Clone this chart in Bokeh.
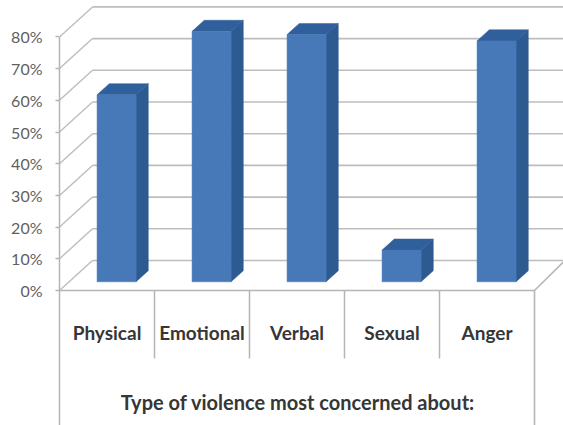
from bokeh.embed import file_html
from bokeh.models import ColumnDataSource, FixedTicker, Range1d
from bokeh.plotting import figure
from bokeh.resources import INLINE
from bokeh.core.properties import value

categories = ["Physical", "Emotional", "Verbal", "Sexual", "Anger"]
percentages = [59, 79, 78, 10, 76]
tick_values = [0, 10, 20, 30, 40, 50, 60, 70, 80]
x_title = "Type of violence most concerned about:"

# Scale: one category slot is 95 px wide, one percent is 3.17 px tall
SLOT_PX = 95.0
PCT_PX = 3.17
DEPTH_X = 33 / SLOT_PX      # full floor depth along x
DEPTH_Y = 30 / PCT_PX       # full floor depth along y
BAR_NEAR = 0.29             # bar front face, as a fraction of floor depth
BAR_FAR = 0.66              # bar back face
BAR_W = 39 / SLOT_PX

GRID = "#bdbdbd"
AXIS = "#b5b5b5"
LABEL = "#5f5f5f"
TEXT = "#363636"

p = figure(
    width=563, height=425, output_backend="svg", toolbar_location=None,
    x_range=Range1d(0, 504 / SLOT_PX),
    y_range=Range1d(-135 / PCT_PX, 290 / PCT_PX),
    min_border_left=59, min_border_right=0, min_border_top=0, min_border_bottom=0,
    background_fill_color="white", border_fill_color="white", outline_line_color=None,
)
p.xaxis.visible = False
p.xgrid.visible = False
p.ygrid.visible = False

ax = p.yaxis[0]
ax.ticker = FixedTicker(ticks=tick_values)
ax.major_label_overrides = {t: f"{t}%" for t in tick_values}
ax.bounds = (-135 / PCT_PX, 80)
ax.axis_line_color = AXIS
ax.axis_line_width = 1.5
ax.major_tick_line_color = AXIS
ax.major_tick_line_width = 1.5
ax.major_tick_in = 0
ax.major_tick_out = 4
ax.minor_tick_line_color = None
ax.major_label_standoff = 13
ax.major_label_text_font = "Lato"
ax.major_label_text_font_size = "16px"
ax.major_label_text_color = LABEL

# Back wall and side wall grid lines
n = len(categories)
back_end = 504 / SLOT_PX
p.segment(
    x0=[DEPTH_X] * len(tick_values), y0=[t + DEPTH_Y for t in tick_values],
    x1=[back_end] * len(tick_values), y1=[t + DEPTH_Y for t in tick_values],
    line_color=GRID, line_width=1.6,
)
p.segment(
    x0=[0.0] * len(tick_values), y0=tick_values,
    x1=[DEPTH_X] * len(tick_values), y1=[t + DEPTH_Y for t in tick_values],
    line_color=GRID, line_width=1.4,
)

# Floor front edge, its right-hand edge and the category table rules
bottom = -135 / PCT_PX
p.segment(x0=[0, n], y0=[0, 0], x1=[n, n + DEPTH_X * 0.92], y1=[0, DEPTH_Y],
          line_color=AXIS, line_width=1.6)
sep_low = -68 / PCT_PX
p.segment(x0=list(range(1, n)), y0=[0] * (n - 1), x1=list(range(1, n)), y1=[sep_low] * (n - 1),
          line_color=AXIS, line_width=1.5)
p.segment(x0=[n], y0=[0], x1=[n], y1=[bottom], line_color=AXIS, line_width=1.6)

# Extruded columns: side face, top face, then front face
near_dx, near_dy = BAR_NEAR * DEPTH_X, BAR_NEAR * DEPTH_Y
back = (BAR_FAR - BAR_NEAR) * DEPTH_X
rise = (BAR_FAR - BAR_NEAR) * DEPTH_Y
side_xs, side_ys, top_xs, top_ys = [], [], [], []
left, right, tops, bases = [], [], [], []
for i, pct in enumerate(percentages):
    x0 = i + 0.5 - BAR_W / 2 + near_dx
    x1 = x0 + BAR_W
    y0 = near_dy
    y_top = pct + near_dy
    left.append(x0)
    right.append(x1)
    bases.append(y0)
    tops.append(y_top)
    side_xs.append([x1, x1 + back, x1 + back, x1])
    side_ys.append([y0, y0 + rise, y_top + rise, y_top])
    top_xs.append([x0, x1, x1 + back, x0 + back])
    top_ys.append([y_top, y_top, y_top + rise, y_top + rise])

p.patches(side_xs, side_ys, fill_color="#2d5a90", line_color="#2d5a90", line_width=0.5)
p.patches(top_xs, top_ys, fill_color="#30609c", line_color="#30609c", line_width=0.5)
p.quad(left=left, right=right, top=tops, bottom=bases,
       fill_color="#4779b8", line_color="#4779b8", line_width=0.5)

# Category labels and axis title
labels = ColumnDataSource(dict(x=[i + 0.5 for i in range(n)], y=[-42 / PCT_PX] * n, t=categories))
p.text(x="x", y="y", text="t", source=labels, text_align="center", text_baseline="middle",
       text_font=value("Lato"), text_font_style="bold", text_font_size="19px", text_color=TEXT)
p.text(x=[n / 2 + 0.01], y=[-111 / PCT_PX], text=[x_title], text_align="center", text_baseline="middle",
       text_font=value("Lato"), text_font_style="bold", text_font_size="20px", text_color=TEXT)

open("out.html", "w").write(file_html(p, INLINE))
